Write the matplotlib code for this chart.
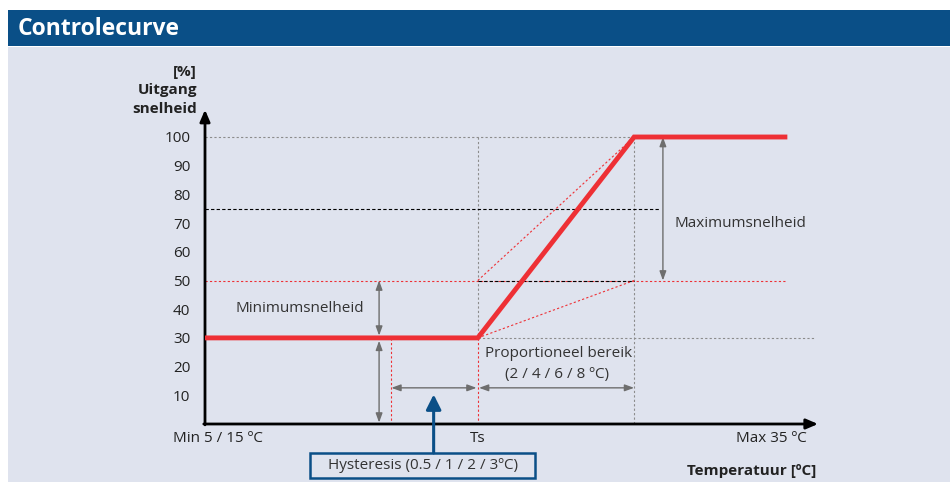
import matplotlib
matplotlib.use("Agg")
import matplotlib.pyplot as plt
from matplotlib.patches import Rectangle

plt.rcParams['font.family'] = ['Open Sans', 'DejaVu Sans']

# ---------------- data ----------------
y_ticks = [10, 20, 30, 40, 50, 60, 70, 80, 90, 100]
curve_x = [0, 44.5, 70, 95]          # position along temperature axis (0-100 scale)
curve_y = [30, 30, 100, 100]          # output speed [%]
ts_pos = 44.5
top_pos = 70
hyst_left = 30.4
min_level = 30
mid_level = 50
black_level = 75
max_level = 100
x_labels = ["Min 5 / 15 ºC", "Ts", "Max 35 ºC"]
y_label_lines = ["[%]", "Uitgang", "snelheid"]

W, H = 950, 482
BG = '#dfe3ee'
BLUE = '#0a4f87'
RED = '#ee3035'
GREY = '#6e6e6e'
DOT = '#8c8c8c'
TXT = '#333333'
FS = 11

fig = plt.figure(figsize=(W / 100, H / 100), dpi=100, facecolor='white')

# background panels
fig.add_artist(Rectangle((8 / W, 0), (W - 8) / W, (H - 47) / H, transform=fig.transFigure,
                         facecolor=BG, edgecolor='none', zorder=0))
fig.add_artist(Rectangle((8 / W, 1 - 46 / H), (W - 8) / W, 36 / H, transform=fig.transFigure,
                         facecolor=BLUE, edgecolor='none', zorder=0))
fig.text(18 / W, 1 - 29 / H, "Controlecurve", color='white', fontsize=16.5, fontweight='bold',
         ha='left', va='center')

# axes: x 0..100 -> px 205..818, y 0..100 -> px 424..137
ax = fig.add_axes([205 / W, 1 - 424 / H, (818 - 205) / W, (424 - 137) / H])
ax.set_xlim(0, 100)
ax.set_ylim(0, 100)
ax.patch.set_alpha(0)
for s in ax.spines.values():
    s.set_visible(False)
ax.set_xticks([])
ax.set_yticks(y_ticks)
ax.set_yticklabels([str(v) for v in y_ticks])
ax.tick_params(axis='y', length=0, pad=10.5, labelsize=FS, labelcolor='#222222')

dot = (0, (2, 2))
dash = (0, (3, 2))
lwd = 0.8

# reference lines
ax.plot([0, top_pos], [max_level, max_level], color=DOT, lw=lwd, ls=dot, clip_on=False)
ax.plot([ts_pos, ts_pos], [max_level, min_level], color=DOT, lw=lwd, ls=dot, clip_on=False)
ax.plot([ts_pos, ts_pos], [min_level, 0], color=RED, lw=lwd, ls=dot, clip_on=False)
ax.plot([hyst_left, hyst_left], [min_level, 0], color=RED, lw=lwd, ls=dot, clip_on=False)
ax.plot([top_pos, top_pos], [max_level, 0], color=DOT, lw=lwd, ls=dot, clip_on=False)
ax.plot([0, 74], [black_level, black_level], color='black', lw=lwd, ls=dash, clip_on=False)
ax.plot([0, 95], [mid_level, mid_level], color=RED, lw=lwd, ls=dot, clip_on=False)
ax.plot([ts_pos, top_pos], [mid_level, mid_level], color='black', lw=lwd, ls=dash, clip_on=False)
ax.plot([ts_pos, 99.5], [min_level, min_level], color=DOT, lw=lwd, ls=dot, clip_on=False)
ax.plot([ts_pos, top_pos], [mid_level, max_level], color=RED, lw=lwd, ls=dot, clip_on=False)
ax.plot([ts_pos, top_pos], [min_level, mid_level], color=RED, lw=lwd, ls=dot, clip_on=False)

# main curve
ax.plot(curve_x, curve_y, color=RED, lw=3.5, solid_joinstyle='miter', solid_capstyle='butt',
        clip_on=False, zorder=5)

# axes arrows
axis_style = dict(arrowstyle='-|>,head_length=0.7,head_width=0.3', color='black', lw=2,
                  shrinkA=0, shrinkB=0)
ax.annotate('', xy=(0, 109.5), xytext=(0, -0.3), arrowprops=axis_style, annotation_clip=False)
ax.annotate('', xy=(100, 0), xytext=(-0.2, 0), arrowprops=axis_style, annotation_clip=False)

# grey dimension arrows
dim = dict(arrowstyle='<|-|>,head_length=0.55,head_width=0.2', color=GREY, lw=1,
           shrinkA=0, shrinkB=0)
ax.annotate('', xy=(28.4, mid_level), xytext=(28.4, min_level + 0.8), arrowprops=dim,
            annotation_clip=False)
ax.annotate('', xy=(28.4, min_level - 1), xytext=(28.4, 0.5), arrowprops=dim, annotation_clip=False)
ax.annotate('', xy=(74.7, max_level), xytext=(74.7, mid_level), arrowprops=dim, annotation_clip=False)
ax.annotate('', xy=(hyst_left, 12.6), xytext=(ts_pos - 0.2, 12.6), arrowprops=dim,
            annotation_clip=False)
ax.annotate('', xy=(ts_pos + 0.2, 12.6), xytext=(top_pos, 12.6), arrowprops=dim,
            annotation_clip=False)

# blue hysteresis arrow & box
ax.annotate('', xy=(37.3, 10.3), xytext=(37.3, -10.1),
            arrowprops=dict(arrowstyle='-|>,head_length=0.9,head_width=0.45', color=BLUE, lw=2.2,
                            shrinkA=0, shrinkB=0), annotation_clip=False)
ax.add_patch(Rectangle((17.1, -18.9), 53.8 - 17.1, 8.8, facecolor=BG, edgecolor=BLUE, lw=1.8,
                       clip_on=False))
ax.text(35.5, -14.4, "Hysteresis (0.5 / 1 / 2 / 3ºC)", ha='center', va='center', fontsize=FS,
        color=TXT, clip_on=False)

# annotations
ax.text(15.4, 40.4, "Minimumsnelheid", ha='center', va='center', fontsize=FS, color=TXT)
ax.text(87.4, 69.7, "Maximumsnelheid", ha='center', va='center', fontsize=FS, color=TXT,
        clip_on=False)
ax.text(57.6, 24.7, "Proportioneel bereik", ha='center', va='center', fontsize=FS, color=TXT)
ax.text(57.4, 17.1, "(2 / 4 / 6 / 8 ºC)", ha='center', va='center', fontsize=FS, color=TXT)

# x labels
ax.text(2.1, -4.9, x_labels[0], ha='center', va='center', fontsize=FS, color='#222222', clip_on=False)
ax.text(ts_pos, -4.9, x_labels[1], ha='center', va='center', fontsize=FS, color='#222222', clip_on=False)
ax.text(98.2, -4.9, x_labels[2], ha='right', va='center', fontsize=FS, color='#222222', clip_on=False)
ax.text(99.8, -16.4, "Temperatuur [ºC]", ha='right', va='center', fontsize=FS, fontweight='bold',
        color='#222222', clip_on=False)

# y label
for txt, ypx in zip(y_label_lines, [72, 90, 109]):
    fig.text(197 / W, 1 - ypx / H, txt, ha='right', va='center', fontsize=FS, fontweight='bold',
             color='#222222')

fig.savefig('out.png', dpi=100, facecolor='white')
